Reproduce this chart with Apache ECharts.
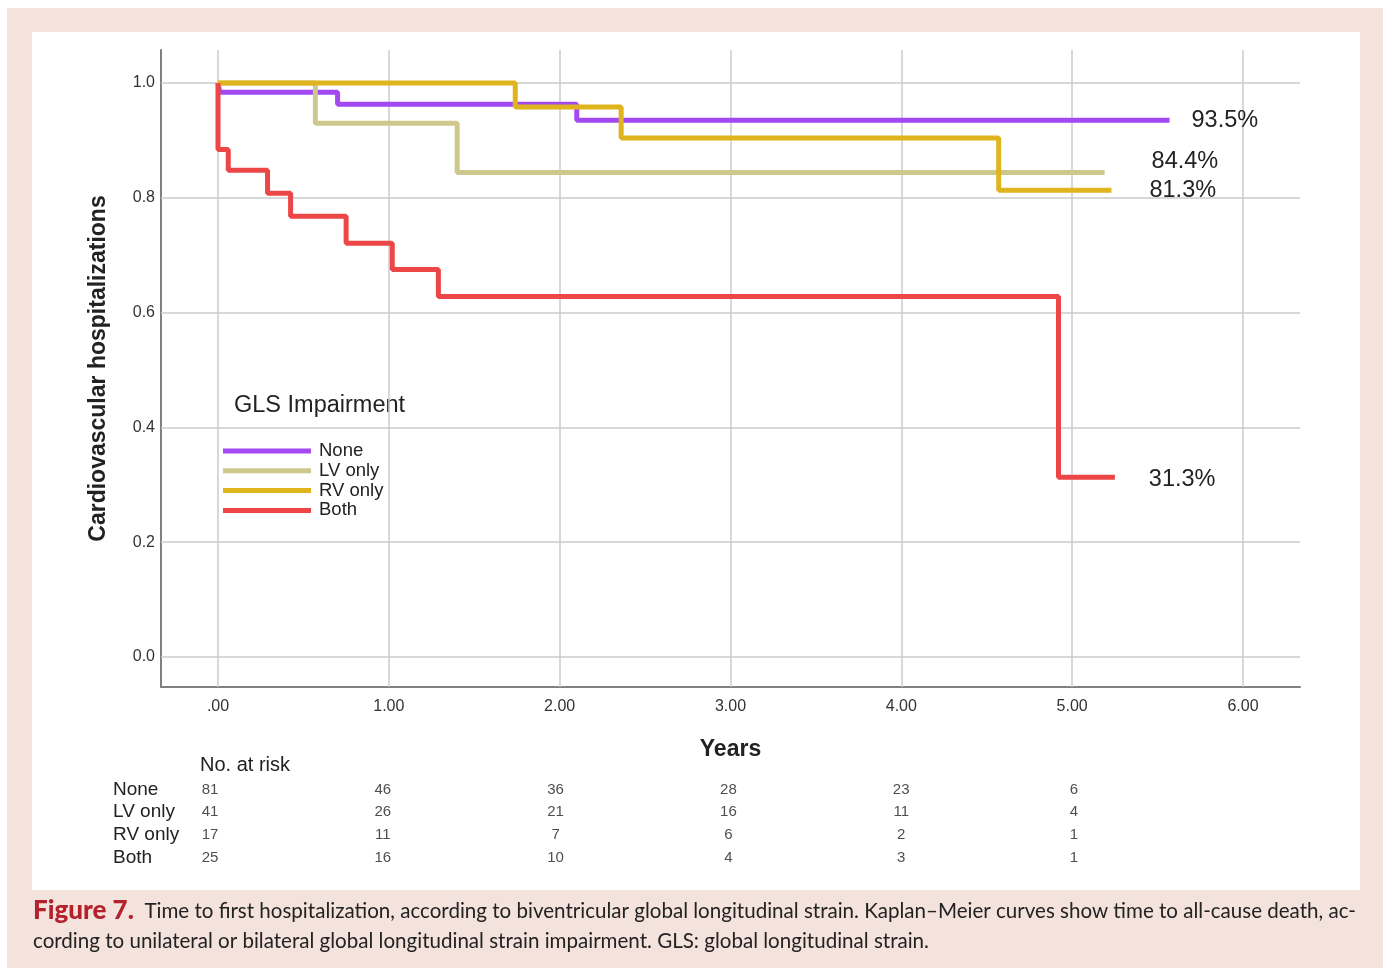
<!DOCTYPE html>
<html>
<head>
<meta charset="utf-8">
<script src="https://cdn.jsdelivr.net/npm/echarts@6/dist/echarts.min.js"></script>
<style>
html,body{margin:0;padding:0;background:#fff;}
#chart{width:1386px;height:972px;}
</style>
</head>
<body>
<div id="chart"></div>
<script>
// ---- Data ----
const groups = ['None', 'LV only', 'RV only', 'Both'];
// Kaplan-Meier steps: [years, cumulative proportion free of event]
const kmNone = [[0, 1], [0.01, 0.984], [0.70, 0.963], [2.10, 0.935], [5.57, 0.935]];
const kmLV   = [[0, 1], [0.57, 0.930], [1.40, 0.844], [5.19, 0.844]];
const kmRV   = [[0, 1], [1.74, 0.958], [2.36, 0.904], [4.57, 0.813], [5.23, 0.813]];
const kmBoth = [[0, 1], [0.0, 0.884], [0.06, 0.848], [0.29, 0.808], [0.425, 0.768],
                [0.75, 0.721], [1.02, 0.675], [1.29, 0.628], [4.92, 0.313], [5.25, 0.313]];
const endLabels = ['93.5%', '84.4%', '81.3%', '31.3%'];
const xTicks = [0, 1, 2, 3, 4, 5, 6];
const yTicks = [0, 0.2, 0.4, 0.6, 0.8, 1.0];
// Number at risk
const riskTimes = [0, 1, 2, 3, 4, 5];
const riskNone = [81, 46, 36, 28, 23, 6];
const riskLV   = [41, 26, 21, 16, 11, 4];
const riskRV   = [17, 11, 7, 6, 2, 1];
const riskBoth = [25, 16, 10, 4, 3, 1];

const colors = ['#a349f2', '#cfc88c', '#dfb41c', '#ec4646'];
const kmData = [kmNone, kmLV, kmRV, kmBoth];
const riskData = [riskNone, riskLV, riskRV, riskBoth];
const endLabelOffsets = [[22, 0], [47, -11], [38, 0], [34, 2]];

const FONT = "'Liberation Sans', Arial, sans-serif";
const CAPFONT = "Lato, 'Open Sans', sans-serif";

const chart = echarts.init(document.getElementById('chart'), null, {renderer: 'canvas'});

const kmSeries = groups.map((g, i) => ({
  name: g,
  type: 'line',
  xAxisIndex: 0, yAxisIndex: 0,
  step: 'end',
  symbol: 'none',
  data: kmData[i],
  z: 5,
  lineStyle: {color: colors[i], width: 5},
  itemStyle: {color: colors[i]},
  endLabel: {
    show: true,
    formatter: endLabels[i],
    distance: 0,
    offset: endLabelOffsets[i],
    fontFamily: FONT,
    fontSize: 23.5,
    color: '#222'
  }
}));

const gridSeries = {
  type: 'line',
  xAxisIndex: 0, yAxisIndex: 0,
  data: [],
  silent: true,
  z: 1,
  markLine: {
    silent: true,
    symbol: 'none',
    label: {show: false},
    lineStyle: {color: '#cbcbcb', width: 1.5, type: 'solid'},
    data: xTicks.map(v => ({xAxis: v})).concat(yTicks.map(v => ({yAxis: v})))
  }
};

const riskSeries = {
  type: 'scatter',
  xAxisIndex: 1, yAxisIndex: 1,
  symbolSize: 1,
  itemStyle: {color: 'rgba(0,0,0,0)'},
  silent: true,
  label: {
    show: true,
    position: 'inside',
    formatter: p => String(p.value[2]),
    fontFamily: FONT,
    fontSize: 15,
    color: '#222'
  },
  data: groups.flatMap((g, gi) => riskTimes.map((t, ti) => [t, g, riskData[gi][ti]]))
};

const option = {
  backgroundColor: '#ffffff',
  animation: false,
  graphic: [
    {type: 'rect', z: -100, shape: {x: 7, y: 8, width: 1376, height: 960}, style: {fill: '#f4e2dc'}},
    {type: 'rect', z: -99, shape: {x: 32, y: 32, width: 1328, height: 858}, style: {fill: '#ffffff'}},
    {type: 'text', left: 234, top: 394, style: {text: 'GLS Impairment', font: "23.5px " + FONT, fill: '#222'}},
    {type: 'text', left: 200, top: 755, style: {text: 'No. at risk', font: "20px " + FONT, fill: '#222'}},
    {
      type: 'text', left: 33, top: 896,
      style: {
        text: '{b|Figure 7.}  Time to first hospitalization, according to biventricular global longitudinal strain. Kaplan\u2013Meier curves show time to all-cause death, ac-\ncording to unilateral or bilateral global longitudinal strain impairment. GLS: global longitudinal strain.',
        font: "20.55px " + CAPFONT,
        fill: '#222',
        lineHeight: 30,
        rich: {
          b: {fontFamily: CAPFONT, fontSize: 26, fontWeight: 900, fill: '#b3222c', lineHeight: 30}
        }
      }
    }
  ],
  legend: {
    data: groups,
    orient: 'vertical',
    left: 218,
    top: 436.5,
    icon: 'rect',
    itemWidth: 88,
    itemHeight: 5,
    itemGap: 0.8,
    selectedMode: false,
    textStyle: {fontFamily: FONT, fontSize: 18.5, color: '#222', lineHeight: 18, padding: [0, 0, 0, 3]}
  },
  grid: [
    {left: 161, right: 86, top: 50, bottom: 285, containLabel: false},
    {left: 161, right: 86, top: 778, height: 91, containLabel: false}
  ],
  xAxis: [
    {
      type: 'value',
      gridIndex: 0,
      min: -57 / 170.83,
      max: 6 + 57 / 170.83,
      name: 'Years',
      nameLocation: 'middle',
      nameGap: 51,
      nameTextStyle: {fontFamily: FONT, fontSize: 23, fontWeight: 'bold', color: '#222'},
      axisLine: {show: true, onZero: false, lineStyle: {color: '#808080', width: 2}},
      axisTick: {show: false},
      splitLine: {show: false},
      axisLabel: {
        customValues: xTicks,
        margin: 12,
        fontFamily: FONT,
        fontSize: 16,
        color: '#333',
        formatter: v => (v === 0 ? '.00' : Number(v).toFixed(2))
      }
    },
    {
      type: 'value',
      gridIndex: 1,
      min: -49 / 172.8,
      max: 5 + 226 / 172.8,
      show: false
    }
  ],
  yAxis: [
    {
      type: 'value',
      gridIndex: 0,
      min: -30 / 574,
      max: 1 + 33 / 574,
      name: 'Cardiovascular hospitalizations',
      nameLocation: 'middle',
      nameGap: 51,
      nameTextStyle: {fontFamily: FONT, fontSize: 23, fontWeight: 'bold', color: '#222'},
      axisLine: {show: true, onZero: false, lineStyle: {color: '#808080', width: 2}},
      axisTick: {show: false},
      splitLine: {show: false},
      axisLabel: {
        customValues: yTicks,
        margin: 6,
        fontFamily: FONT,
        fontSize: 16,
        color: '#333',
        formatter: v => Number(v).toFixed(1)
      }
    },
    {
      type: 'category',
      gridIndex: 1,
      data: groups,
      inverse: true,
      axisLine: {show: false},
      axisTick: {show: false},
      splitLine: {show: false},
      axisLabel: {interval: 0, align: 'left', margin: 48, fontFamily: FONT, fontSize: 19, color: '#222'}
    }
  ],
  series: [gridSeries].concat(kmSeries).concat([riskSeries])
};

chart.setOption(option);
</script>
</body>
</html>
